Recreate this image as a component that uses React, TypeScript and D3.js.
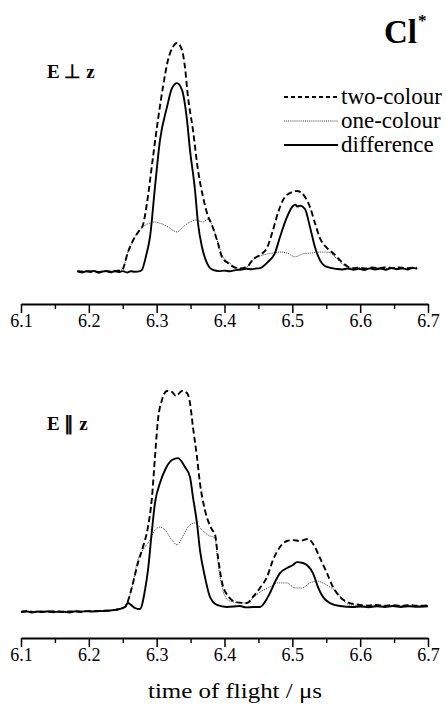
import React, { useEffect, useRef } from "react";
import * as d3 from "d3";

type Pt = [number, number];

// Time-of-flight tick values (µs)
const majorTicks = [6.1, 6.2, 6.3, 6.4, 6.5, 6.6, 6.7];
const minorTicks = [6.15, 6.25, 6.35, 6.45, 6.55, 6.65];

const legendLabels = ["two-colour", "one-colour", "difference"];

// E ⊥ z panel: [time / µs, signal]
const perpTwoColour: Pt[] = [
  [6.183, 0.003], [6.192, 0.001], [6.2, 0.004], [6.208, 0.002], [6.216, 0.0], [6.224, 0.004],
  [6.232, 0.002], [6.24, 0.005], [6.2489, 0.009], [6.2577, 0.087], [6.268, 0.153], [6.2754, 0.185],
  [6.2798, 0.205], [6.2857, 0.301], [6.2946, 0.502], [6.3019, 0.664], [6.3093, 0.808], [6.3167, 0.926],
  [6.324, 0.983], [6.33, 1.0], [6.3373, 0.969], [6.3417, 0.895], [6.3462, 0.764], [6.3535, 0.62],
  [6.3609, 0.445], [6.3683, 0.328], [6.3756, 0.245], [6.3815, 0.205], [6.3889, 0.14], [6.3963, 0.066],
  [6.4051, 0.039], [6.4184, 0.017], [6.4228, 0.016], [6.4331, 0.022], [6.442, 0.055], [6.4523, 0.074],
  [6.4626, 0.105], [6.4715, 0.183], [6.4788, 0.258], [6.4862, 0.314], [6.4965, 0.345], [6.5068, 0.354],
  [6.5186, 0.328], [6.526, 0.284], [6.5333, 0.214], [6.5407, 0.148], [6.551, 0.105], [6.5599, 0.083],
  [6.5702, 0.052], [6.5805, 0.026], [6.5894, 0.017], [6.598, 0.019], [6.608, 0.015], [6.618, 0.02],
  [6.628, 0.016], [6.638, 0.021], [6.648, 0.017], [6.658, 0.02], [6.668, 0.016], [6.678, 0.019],
  [6.684, 0.018],
];

const perpOneColour: Pt[] = [
  [6.183, 0.002], [6.192, 0.0], [6.2, 0.003], [6.208, 0.001], [6.216, -0.001], [6.224, 0.003],
  [6.232, 0.001], [6.24, 0.004], [6.2489, 0.009], [6.2577, 0.087], [6.268, 0.153], [6.2798, 0.197],
  [6.2902, 0.214], [6.2975, 0.218], [6.3078, 0.21], [6.3167, 0.197], [6.33, 0.175], [6.3388, 0.197],
  [6.3491, 0.218], [6.358, 0.227], [6.3683, 0.218], [6.3756, 0.231], [6.383, 0.197], [6.3904, 0.127],
  [6.3977, 0.066], [6.408, 0.039], [6.4184, 0.017], [6.4302, 0.013], [6.4376, 0.039], [6.4479, 0.066],
  [6.4567, 0.074], [6.4715, 0.083], [6.4818, 0.087], [6.4921, 0.083], [6.5039, 0.066], [6.5157, 0.079],
  [6.529, 0.083], [6.5407, 0.087], [6.5525, 0.087], [6.5628, 0.066], [6.5702, 0.044], [6.5805, 0.022],
  [6.5894, 0.017], [6.6, 0.018], [6.612, 0.014], [6.624, 0.019], [6.636, 0.015], [6.648, 0.018],
  [6.66, 0.014], [6.672, 0.017], [6.684, 0.016],
];

const perpDifference: Pt[] = [
  [6.183, 0.004], [6.19, -0.002], [6.196, 0.003], [6.202, 0.0], [6.208, 0.005], [6.214, -0.003],
  [6.22, 0.002], [6.226, 0.004], [6.232, -0.001], [6.238, 0.003], [6.244, 0.0], [6.25, 0.004],
  [6.256, -0.002], [6.262, 0.003], [6.268, 0.001], [6.2755, 0.004], [6.2784, 0.01], [6.2843, 0.07],
  [6.2902, 0.153], [6.2975, 0.371], [6.3049, 0.576], [6.3152, 0.72], [6.3226, 0.803], [6.33, 0.825],
  [6.3373, 0.795], [6.3447, 0.664], [6.3491, 0.533], [6.3565, 0.358], [6.3609, 0.214], [6.3668, 0.109],
  [6.3742, 0.039], [6.383, 0.009], [6.392, 0.004], [6.4, 0.006], [6.408, 0.003], [6.416, 0.008],
  [6.424, 0.01], [6.432, 0.014], [6.44, 0.012], [6.446, 0.015], [6.4523, 0.017], [6.464, 0.044],
  [6.4744, 0.083], [6.4818, 0.153], [6.4921, 0.24], [6.5009, 0.288], [6.5045, 0.294], [6.5075, 0.286],
  [6.5112, 0.29], [6.5186, 0.275], [6.526, 0.197], [6.5333, 0.109], [6.5407, 0.052], [6.551, 0.022],
  [6.5658, 0.013], [6.574, 0.011], [6.582, 0.015], [6.59, 0.01], [6.598, 0.014], [6.606, 0.009],
  [6.614, 0.016], [6.622, 0.011], [6.63, 0.015], [6.638, 0.01], [6.646, 0.017], [6.654, 0.012],
  [6.662, 0.016], [6.67, 0.011], [6.678, 0.018], [6.684, 0.014],
];

// E ∥ z panel: [time / µs, signal]
const paraTwoColour: Pt[] = [
  [6.1, 0.001], [6.11, 0.003], [6.12, 0.0], [6.13, 0.002], [6.14, 0.001], [6.15, 0.003],
  [6.16, 0.0], [6.17, 0.002], [6.18, 0.003], [6.19, 0.001], [6.2, 0.004], [6.21, 0.003],
  [6.22, 0.005], [6.23, 0.006], [6.2386, 0.009], [6.2533, 0.022], [6.2577, 0.048], [6.2651, 0.127],
  [6.2724, 0.214], [6.2798, 0.284], [6.2872, 0.371], [6.2931, 0.502], [6.2975, 0.677], [6.3019, 0.838],
  [6.3078, 0.926], [6.3152, 0.965], [6.3226, 0.961], [6.3285, 0.943], [6.3373, 0.965], [6.3447, 0.956],
  [6.3491, 0.913], [6.3535, 0.808], [6.3594, 0.677], [6.3638, 0.563], [6.3712, 0.445], [6.3815, 0.36],
  [6.3859, 0.34], [6.3904, 0.24], [6.3963, 0.13], [6.4051, 0.07], [6.4184, 0.042], [6.4331, 0.039],
  [6.442, 0.066], [6.4523, 0.105], [6.4626, 0.153], [6.4715, 0.227], [6.4818, 0.284], [6.4921, 0.31],
  [6.5009, 0.314], [6.5112, 0.31], [6.523, 0.319], [6.5333, 0.284], [6.5407, 0.236], [6.551, 0.17],
  [6.5599, 0.109], [6.5702, 0.066], [6.5805, 0.044], [6.5997, 0.031], [6.612, 0.028], [6.624, 0.031],
  [6.636, 0.027], [6.648, 0.03], [6.66, 0.027], [6.672, 0.03], [6.684, 0.027], [6.7, 0.029],
];

const paraOneColour: Pt[] = [
  [6.1, 0.0], [6.11, 0.002], [6.12, -0.001], [6.13, 0.001], [6.14, 0.0], [6.15, 0.002],
  [6.16, -0.001], [6.17, 0.001], [6.18, 0.002], [6.19, 0.0], [6.2, 0.003], [6.21, 0.002],
  [6.22, 0.004], [6.23, 0.005], [6.2386, 0.009], [6.2533, 0.022], [6.2577, 0.048], [6.2651, 0.127],
  [6.271, 0.214], [6.2798, 0.271], [6.2902, 0.314], [6.2975, 0.358], [6.3049, 0.371], [6.3123, 0.358],
  [6.3226, 0.314], [6.33, 0.293], [6.3373, 0.323], [6.3462, 0.371], [6.3565, 0.389], [6.3668, 0.358],
  [6.3756, 0.336], [6.3859, 0.323], [6.3904, 0.214], [6.3963, 0.109], [6.4051, 0.052], [6.4125, 0.044],
  [6.4331, 0.039], [6.442, 0.061], [6.4523, 0.087], [6.467, 0.109], [6.4788, 0.127], [6.4921, 0.127],
  [6.5039, 0.105], [6.5142, 0.105], [6.526, 0.127], [6.5363, 0.135], [6.5451, 0.127], [6.5555, 0.109],
  [6.5658, 0.087], [6.5746, 0.052], [6.5849, 0.031], [6.6, 0.029], [6.615, 0.026], [6.63, 0.029],
  [6.645, 0.026], [6.66, 0.028], [6.675, 0.025], [6.69, 0.028], [6.7, 0.027],
];

const paraDifference: Pt[] = [
  [6.1, 0.0], [6.108, 0.003], [6.116, -0.002], [6.124, 0.002], [6.132, 0.0], [6.14, 0.003],
  [6.148, -0.001], [6.156, 0.002], [6.164, 0.001], [6.172, -0.002], [6.18, 0.003], [6.188, 0.001],
  [6.196, 0.004], [6.204, 0.002], [6.212, 0.005], [6.22, 0.004], [6.228, 0.006], [6.2386, 0.009],
  [6.2533, 0.022], [6.2577, 0.039], [6.2621, 0.031], [6.268, 0.017], [6.2754, 0.013], [6.2828, 0.096],
  [6.2872, 0.183], [6.2931, 0.358], [6.2975, 0.476], [6.3049, 0.563], [6.3123, 0.62], [6.3226, 0.664],
  [6.3314, 0.672], [6.3417, 0.633], [6.3491, 0.59], [6.3535, 0.502], [6.3594, 0.389], [6.3638, 0.271],
  [6.3712, 0.153], [6.3786, 0.066], [6.3889, 0.031], [6.4036, 0.022], [6.4228, 0.026], [6.432, 0.02],
  [6.442, 0.022], [6.4523, 0.022], [6.4597, 0.044], [6.467, 0.083], [6.4744, 0.131], [6.4818, 0.17],
  [6.4921, 0.192], [6.5009, 0.205], [6.5068, 0.218], [6.5157, 0.214], [6.523, 0.201], [6.5304, 0.17],
  [6.5378, 0.109], [6.5451, 0.066], [6.5555, 0.039], [6.5702, 0.026], [6.5894, 0.022], [6.6, 0.024],
  [6.612, 0.021], [6.624, 0.025], [6.636, 0.022], [6.648, 0.026], [6.66, 0.022], [6.672, 0.025],
  [6.684, 0.023], [6.7, 0.025],
];

const SERIF = "'Liberation Serif', 'Times New Roman', serif";

const styles = {
  two: { stroke: "#000", width: 1.9, dash: "6,3.2" },
  one: { stroke: "#333", width: 1.0, dash: "1,1.1" },
  diff: { stroke: "#000", width: 1.9, dash: null as string | null },
};

export default function App() {
  const ref = useRef<SVGGElement | null>(null);

  useEffect(() => {
    const g = d3.select(ref.current);
    g.selectAll("*").remove();

    const x = d3.scaleLinear().domain([6.1, 6.7]).range([21, 428]);
    const yTop = d3.scaleLinear().domain([0, 1]).range([272, 43]);
    const yBot = d3.scaleLinear().domain([0, 1]).range([612, 383]);

    const drawPanel = (
      y: d3.ScaleLinear<number, number>,
      two: Pt[],
      one: Pt[],
      diff: Pt[],
      axisY: number
    ) => {
      const line = d3
        .line<Pt>()
        .x((d) => x(d[0]))
        .y((d) => y(d[1]))
        .curve(d3.curveMonotoneX);

      const series: [Pt[], typeof styles.two][] = [
        [one, styles.one],
        [diff, styles.diff],
        [two, styles.two],
      ];
      series.forEach(([data, st]) => {
        g.append("path")
          .attr("d", line(data) as string)
          .attr("fill", "none")
          .attr("stroke", st.stroke)
          .attr("stroke-width", st.width)
          .attr("stroke-linejoin", "round")
          .attr("stroke-dasharray", st.dash ?? null);
      });

      // axis: major ticks with labels, minor ticks without
      const major = g
        .append("g")
        .attr("transform", `translate(0,${axisY})`)
        .call(
          d3
            .axisBottom(x)
            .tickValues(majorTicks)
            .tickSize(9)
            .tickSizeOuter(0)
            .tickPadding(1)
            .tickFormat(d3.format(".1f"))
        );
      major.attr("font-family", SERIF).attr("font-size", 18);
      major.select(".domain").attr("stroke", "#000").attr("stroke-width", 1.8);
      major.selectAll(".tick line").attr("stroke", "#000").attr("stroke-width", 1.5);
      major.selectAll(".tick text").attr("fill", "#000");

      const minor = g
        .append("g")
        .attr("transform", `translate(0,${axisY})`)
        .call(d3.axisBottom(x).tickValues(minorTicks).tickSize(5).tickFormat(() => ""));
      minor.select(".domain").remove();
      minor.selectAll(".tick line").attr("stroke", "#000").attr("stroke-width", 1.4);
    };

    drawPanel(yTop, perpTwoColour, perpOneColour, perpDifference, 304);
    drawPanel(yBot, paraTwoColour, paraOneColour, paraDifference, 638);

    // legend
    const legendStyles = [styles.two, styles.one, styles.diff];
    legendLabels.forEach((label, i) => {
      const ly = 97 + i * 24;
      const st = legendStyles[i];
      g.append("line")
        .attr("x1", 284)
        .attr("x2", 338)
        .attr("y1", ly)
        .attr("y2", ly)
        .attr("stroke", st.stroke)
        .attr("stroke-width", st.width)
        .attr("stroke-dasharray", st.dash === null ? null : i === 0 ? "4,3" : st.dash);
      g.append("text")
        .attr("x", 341)
        .attr("y", ly + 7)
        .attr("fill", "#000")
        .attr("font-family", SERIF)
        .attr("font-size", 23)
        .text(label);
    });
  }, []);

  return (
    <svg
      width={446}
      height={704}
      style={{ position: "absolute", left: 0, top: 0, background: "#fff" }}
    >
      <g ref={ref} />
      <text x={384} y={43} fontFamily={SERIF} fontWeight="bold" fontSize={33} fill="#000">
        Cl
        <tspan fontSize={17} dy={-17} dx={1}>*</tspan>
      </text>
      <text x={47} y={78} fontFamily={SERIF} fontWeight="bold" fontSize={19} fill="#000">
        E ⊥ z
      </text>
      <text x={47} y={430} fontFamily={SERIF} fontWeight="bold" fontSize={19} fill="#000">
        E ∥ z
      </text>
      <text
        x={235}
        y={698}
        textAnchor="middle"
        fontFamily={SERIF}
        fontSize={21}
        textLength={174}
        lengthAdjust="spacingAndGlyphs"
        fill="#000"
      >
        time of flight / μs
      </text>
    </svg>
  );
}
